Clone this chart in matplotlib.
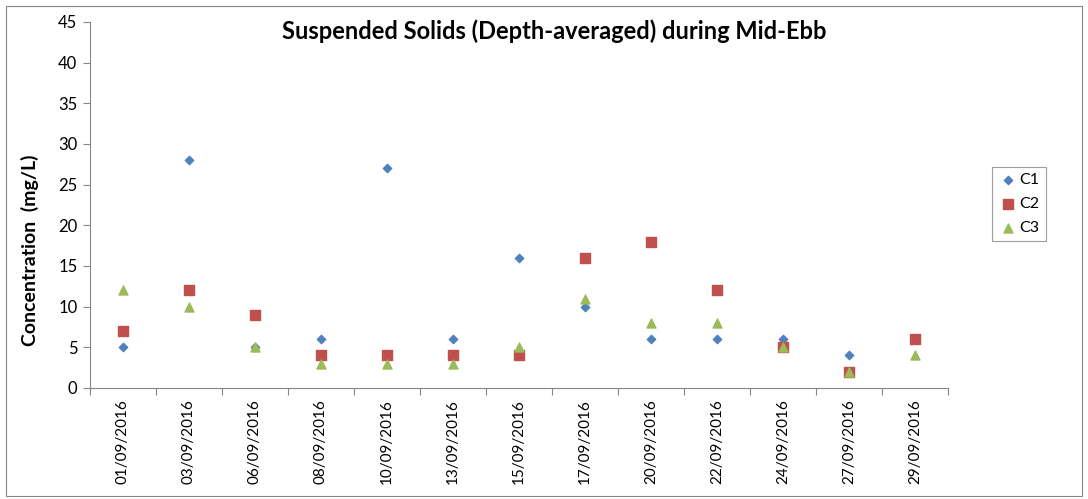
import matplotlib
matplotlib.use("Agg")
from matplotlib import pyplot as plt
from matplotlib.patches import Rectangle
import numpy as np

plt.rcParams['font.family'] = ['Lato', 'DejaVu Sans']

dates = ['01/09/2016', '03/09/2016', '06/09/2016', '08/09/2016', '10/09/2016',
         '13/09/2016', '15/09/2016', '17/09/2016', '20/09/2016', '22/09/2016',
         '24/09/2016', '27/09/2016', '29/09/2016']
c1 = [5, 28, 5, 6, 27, 6, 16, 10, 6, 6, 6, 4, 6]
c2 = [7, 12, 9, 4, 4, 4, 4, 16, 18, 12, 5, 2, 6]
c3 = [12, 10, 5, 3, 3, 3, 5, 11, 8, 8, 5, 2, 4]

fig = plt.figure(figsize=(10.88, 4.99), dpi=100)
ax = fig.add_axes([90 / 1088, 1 - 388 / 499, 858 / 1088, 366 / 499])

x = np.arange(len(dates))
ax.scatter(x, c1, marker='D', s=18, color='#4F81BD', label='C1', zorder=3)
ax.scatter(x, c2, marker='s', s=42, color='#C0504D', label='C2', zorder=3)
ax.scatter(x, c3, marker='^', s=42, color='#9BBB59', label='C3', zorder=3)

ax.set_xlim(-0.5, len(dates) - 0.5)
ax.set_ylim(0, 45)
ax.set_yticks(np.arange(0, 46, 5))
ax.set_xticks(np.arange(-0.5, len(dates), 1))
ax.set_xticklabels([])
ax.set_xticks(x, minor=True)
ax.set_xticklabels(dates, minor=True, rotation=90, fontsize=11)
ax.tick_params(axis='x', which='minor', length=0, pad=8)
ax.tick_params(axis='x', which='major', length=5, color='#868686')
ax.tick_params(axis='y', length=5, color='#868686', labelsize=12, pad=4)

for side in ['top', 'right']:
    ax.spines[side].set_visible(False)
for side in ['left', 'bottom']:
    ax.spines[side].set_color('#868686')

ax.set_ylabel('Concentration  (mg/L)', fontsize=14, fontweight='bold')
ax.yaxis.set_label_coords(-0.059, (388 - 250) / 366)
fig.text(0.509, 0.938, 'Suspended Solids (Depth-averaged) during Mid-Ebb',
         fontsize=17, fontweight='bold', ha='center', va='center')

leg = fig.legend(loc='center left', bbox_to_anchor=(992 / 1088, 1 - 204 / 499),
                 frameon=True, fancybox=False, fontsize=11.5, handletextpad=0.1,
                 borderpad=0.4, labelspacing=0.6, handlelength=1.2,
                 borderaxespad=0)
leg.get_frame().set_edgecolor('#868686')
leg.get_frame().set_linewidth(0.8)

fig.patches.append(Rectangle((6 / 1088, 1 - 496 / 499), 1076 / 1088, 490 / 499,
                             transform=fig.transFigure, fill=False,
                             edgecolor='#868686', linewidth=0.8))

fig.savefig('out.png', dpi=100)
